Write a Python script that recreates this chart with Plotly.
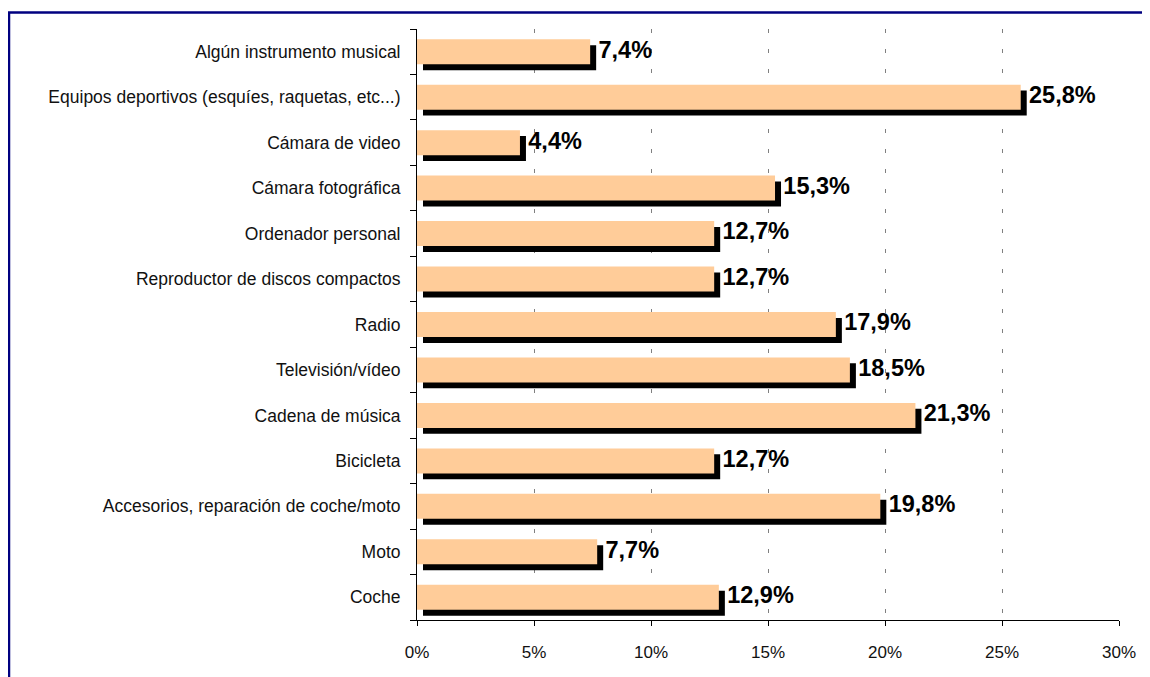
import plotly.graph_objects as go

categories = [
    "Coche",
    "Moto",
    "Accesorios, reparación de coche/moto",
    "Bicicleta",
    "Cadena de música",
    "Televisión/vídeo",
    "Radio",
    "Reproductor de discos compactos",
    "Ordenador personal",
    "Cámara fotográfica",
    "Cámara de video",
    "Equipos deportivos (esquíes, raquetas, etc...)",
    "Algún instrumento musical",
]
values = [12.9, 7.7, 19.8, 12.7, 21.3, 18.5, 17.9, 12.7, 12.7, 15.3, 4.4, 25.8, 7.4]
x_ticks = [0, 5, 10, 15, 20, 25, 30]
x_tick_labels = [f"{t}%" for t in x_ticks]

labels = [f"{v:.1f}".replace(".", ",") + "%" for v in values]

# page body has an 8px margin; the figure is sized to fill the rest
OFF = 8
W, H = 1150 - OFF, 677 - OFF
ml, mr, mt, mb = 417 - OFF, 31, 29 - OFF, 57
pw, ph = W - ml - mr, H - mt - mb
px_per_unit = pw / 30.0
shadow_dx = 6 / px_per_unit

fig = go.Figure()
# shadow
fig.add_trace(go.Bar(
    y=categories, x=values, base=[shadow_dx] * len(values), orientation="h",
    marker=dict(color="#000000", line=dict(width=0)),
    width=0.55, offset=-0.275 - 0.13, hoverinfo="skip", showlegend=False,
))
# main bars
fig.add_trace(go.Bar(
    y=categories, x=values, orientation="h",
    marker=dict(color="#FFCC99", line=dict(width=0)),
    width=0.55, offset=-0.275, showlegend=False,
))
# value labels
fig.add_trace(go.Scatter(
    y=categories, x=[v + shadow_dx + 0.1 for v in values], mode="text",
    text=labels, textposition="middle right",
    textfont=dict(family="Liberation Sans, Arial", size=23.5, color="#000000", weight="bold"),
    cliponaxis=False, showlegend=False, hoverinfo="skip",
))

fam = "Liberation Sans, Arial"
fig.update_layout(
    width=W, height=H, barmode="overlay",
    margin=dict(l=ml, r=mr, t=mt, b=mb, pad=0, autoexpand=False),
    paper_bgcolor="white", plot_bgcolor="white",
    font=dict(family=fam, color="#111111"),
    xaxis=dict(
        range=[0, 30], tickvals=x_ticks, ticktext=x_tick_labels,
        showgrid=True, gridcolor="#808080", gridwidth=1, griddash="4px,16px",
        showline=True, linecolor="#000000", linewidth=1,
        ticks="outside", ticklen=5, tickcolor="#000000",
        tickfont=dict(family=fam, size=17), zeroline=False, automargin=False,
        ticklabelstandoff=12,
    ),
    yaxis=dict(
        type="category", categoryorder="array", categoryarray=categories,
        range=[-0.5, len(categories) - 0.5],
        showline=True, linecolor="#000000", linewidth=1,
        ticks="outside", ticklen=6, tickcolor="#000000", tickson="boundaries",
        tickfont=dict(family=fam, size=17.5), showgrid=False, ticklabelstandoff=12,
        automargin=False,
    ),
    shapes=[dict(
        type="rect", xref="paper", yref="paper",
        x0=(9 - OFF - ml) / pw, x1=(W + 10 - ml) / pw,
        y0=-(H + 10 - mt - ph) / ph, y1=1 + (mt - (12.5 - OFF)) / ph,
        line=dict(color="#000080", width=2.5), fillcolor="rgba(0,0,0,0)", layer="below",
    )],
)

fig.write_html("out.html")
